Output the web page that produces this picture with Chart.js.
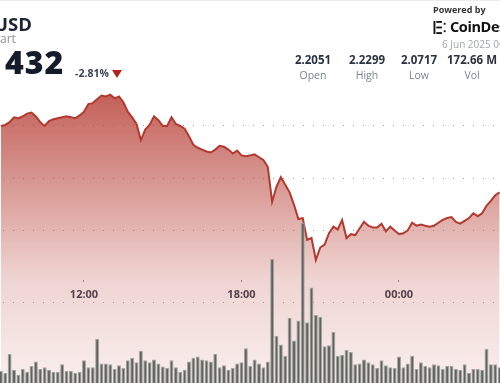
<!DOCTYPE html>
<html>
<head>
<meta charset="utf-8">
<script src="https://cdn.jsdelivr.net/npm/chart.js"></script>
<style>
  body { margin: 0; width: 500px; height: 383px; overflow: hidden; position: relative; background: #fff; font-family: 'Open Sans', sans-serif; }
  #chartBox { position: absolute; left: 0; top: 0; }
  #topLine { position: absolute; left: 0; top: 0; width: 500px; height: 1px; background: #ececec; }
  .t { position: absolute; white-space: nowrap; }
  .stat { position: absolute; width: 70px; text-align: center; }
  .stat b { display: block; font-size: 11.5px; font-weight: 700; color: #2a3140; line-height: 14px; }
  .stat span { display: block; font-size: 10.5px; color: #7d828c; line-height: 14px; margin-top: 1px; }
</style>
</head>
<body>
<div id="chartBox"><canvas id="chart" width="540" height="400"></canvas></div>
<div id="topLine"></div>

<div class="t" style="left:-6px;top:11px;font-size:18.5px;font-weight:700;color:#1c2333;">USD</div>
<div class="t" style="left:0;top:30px;font-size:12px;color:#8b909a;">art</div>
<div class="t" style="left:5px;top:40px;font-size:32px;font-weight:800;letter-spacing:1px;color:#141b2b;">432</div>
<div class="t" style="left:75px;top:66px;font-size:10.5px;font-weight:700;color:#3c4352;">-2.81%</div>
<div class="t" style="left:112px;top:70px;width:0;height:0;border-left:5px solid transparent;border-right:5px solid transparent;border-top:8px solid #b0241b;"></div>

<div class="t" style="left:433px;top:3px;font-size:9px;font-weight:700;color:#333;">Powered by</div>
<svg class="t" style="left:433px;top:21px;" width="15" height="13" viewBox="0 0 15 14">
  <g fill="#111">
    <rect x="0" y="0" width="2" height="14"/>
    <rect x="3" y="0" width="6" height="2"/>
    <rect x="3" y="6" width="6" height="2"/>
    <rect x="3" y="12" width="6" height="2"/>
    <rect x="11" y="2" width="2" height="2"/>
    <rect x="11" y="10" width="2" height="2"/>
  </g>
</svg>
<div class="t" style="left:450px;top:17px;font-size:14.5px;font-weight:700;letter-spacing:-0.4px;color:#111;">CoinDesk</div>
<div class="t" style="left:442px;top:37px;font-size:10px;color:#a3a6ab;">6 Jun 2025 06</div>

<div class="stat" style="left:278px;top:53px;"><b>2.2051</b><span>Open</span></div>
<div class="stat" style="left:332px;top:53px;"><b>2.2299</b><span>High</span></div>
<div class="stat" style="left:384px;top:53px;"><b>2.0717</b><span>Low</span></div>
<div class="stat" style="left:437px;top:53px;"><b>172.66 M</b><span>Vol</span></div>

<script>
// x axis is minutes since midnight of the first day (08:50 -> 03:50 next day)
const xTickValues = [720, 1080, 1440];
const xTickLabels = ['12:00', '18:00', '00:00'];
const priceTicks = [2.10, 2.15, 2.20];
const firstMinute = 530;
const stepMinutes = 10;

// XRP/USD price every 10 minutes
const prices = [
  2.2000, 2.2009, 2.2036, 2.2082, 2.2073, 2.2091, 2.2118, 2.2127, 2.2091, 2.2036,
  2.2000, 2.2045, 2.2064, 2.2073, 2.2082, 2.2091, 2.2082, 2.2073, 2.2100, 2.2136,
  2.2209, 2.2218, 2.2255, 2.2291, 2.2282, 2.2299, 2.2264, 2.2282, 2.2227, 2.2136,
  2.2082, 2.2018, 2.1864, 2.1964, 2.2009, 2.2091, 2.2055, 2.2000, 2.2000, 2.2082,
  2.2018, 2.2000, 2.1973, 2.1900, 2.1818, 2.1791, 2.1773, 2.1755, 2.1745, 2.1773,
  2.1809, 2.1800, 2.1773, 2.1736, 2.1764, 2.1718, 2.1709, 2.1718, 2.1727, 2.1700,
  2.1673, 2.1609, 2.1273, 2.1418, 2.1509, 2.1436, 2.1364, 2.1245, 2.1109, 2.1118,
  2.0909, 2.0927, 2.0717, 2.0836, 2.0864, 2.0973, 2.1036, 2.1009, 2.1100, 2.0927,
  2.0964, 2.0955, 2.1018, 2.1082, 2.1045, 2.1027, 2.1027, 2.1064, 2.0991, 2.1036,
  2.1000, 2.0964, 2.0973, 2.1000, 2.1073, 2.1045, 2.1055, 2.1045, 2.1036, 2.1045,
  2.1073, 2.1100, 2.1118, 2.1127, 2.1082, 2.1064, 2.1091, 2.1118, 2.1164, 2.1136,
  2.1164, 2.1236, 2.1282, 2.1336, 2.1364
];

// volume per 10 minutes, millions
const volumes = [
  0.50, 0.45, 0.95, 0.53, 0.40, 0.55, 0.48, 0.63, 0.75, 0.55,
  0.60, 0.53, 0.48, 0.48, 0.68, 0.50, 0.50, 0.45, 0.48, 0.78,
  0.60, 0.60, 1.35, 0.70, 0.70, 0.68, 0.55, 0.65, 0.58, 0.78,
  0.85, 0.73, 1.03, 0.78, 0.73, 0.80, 0.70, 0.62, 0.58, 0.78,
  0.60, 0.48, 0.53, 0.75, 0.85, 0.88, 0.80, 0.78, 0.75, 0.95,
  0.60, 0.65, 0.53, 0.58, 0.70, 0.73, 1.10, 0.63, 0.80, 0.70,
  0.60, 0.75, 3.45, 1.43, 1.20, 0.90, 1.90, 1.30, 1.83, 4.40,
  1.78, 2.70, 1.98, 1.93, 1.15, 1.18, 1.53, 0.90, 0.93, 1.05,
  1.00, 0.68, 0.70, 0.80, 0.73, 0.68, 0.58, 0.78, 0.65, 0.60,
  0.58, 0.88, 0.60, 0.70, 0.90, 0.55, 0.73, 0.63, 0.60, 0.68,
  0.65, 0.55, 0.63, 0.63, 0.55, 0.53, 0.68, 0.45, 0.55, 0.55,
  0.53, 1.08, 0.68, 0.68, 0.60
];

const times = prices.map((p, i) => firstMinute + i * stepMinutes);

function areaFill(context) {
  const chart = context.chart;
  const area = chart.chartArea;
  if (!area) return 'rgba(182,62,52,0.3)';
  const g = chart.ctx.createLinearGradient(0, area.top + 85, 0, area.top + 383);
  g.addColorStop(0, 'rgba(182,62,52,0.82)');
  g.addColorStop(0.62, 'rgba(182,62,52,0.22)');
  g.addColorStop(1, 'rgba(182,62,52,0.07)');
  return g;
}

new Chart(document.getElementById('chart'), {
  data: {
    datasets: [{
      type: 'bar',
      label: 'Vol',
      data: times.map((t, i) => ({ x: t, y: volumes[i] })),
      yAxisID: 'vol',
      backgroundColor: '#5f635d',
      borderColor: '#a3a6a0',
      borderWidth: 1,
      barPercentage: 0.9,
      categoryPercentage: 1,
      order: 0
    }, {
      type: 'line',
      label: 'Price',
      data: times.map((t, i) => ({ x: t, y: prices[i] })),
      yAxisID: 'price',
      borderColor: '#b3392f',
      borderWidth: 2,
      pointRadius: 0,
      tension: 0,
      fill: 'start',
      backgroundColor: areaFill,
      order: 1
    }]
  },
  options: {
    responsive: false,
    animation: false,
    layout: { padding: 0 },
    plugins: { legend: { display: false }, tooltip: { enabled: false } },
    scales: {
      x: {
        type: 'linear',
        min: 528,
        max: 528 + 500 / 0.4375,
        offset: false,
        position: { price: 2.0527 },
        grid: { display: true, offset: false, drawOnChartArea: false, tickLength: 2, tickColor: '#8e8e8e', tickWidth: 1 },
        border: { display: false },
        ticks: {
          padding: 6,
          color: '#3b4250',
          font: { family: 'Open Sans', weight: 'bold', size: 11 },
          callback: v => xTickLabels[xTickValues.indexOf(v)]
        },
        afterBuildTicks: s => { s.ticks = xTickValues.map(v => ({ value: v })); }
      },
      price: {
        axis: 'y',
        position: 'right',
        min: 1.94727,
        max: 2.31091,
        grid: { color: '#a4a4a4', lineWidth: 1, drawTicks: false },
        border: { display: false, dash: [1, 9], dashOffset: 7 },
        ticks: { color: '#555', font: { family: 'Open Sans', size: 10 }, padding: 4 },
        afterBuildTicks: s => { s.ticks = priceTicks.map(v => ({ value: v })); },
        afterFit: s => { s.width = 40; }
      },
      vol: {
        axis: 'y',
        position: 'left',
        min: 0,
        max: 10,
        grid: { color: '#a4a4a4', lineWidth: 1, drawTicks: false },
        border: { display: false, dash: [1, 9], dashOffset: 7 },
        ticks: { display: false },
        afterBuildTicks: s => { s.ticks = [{ value: 2.3 }]; },
        afterFit: s => { s.width = 0; }
      }
    }
  }
});
</script>
</body>
</html>
